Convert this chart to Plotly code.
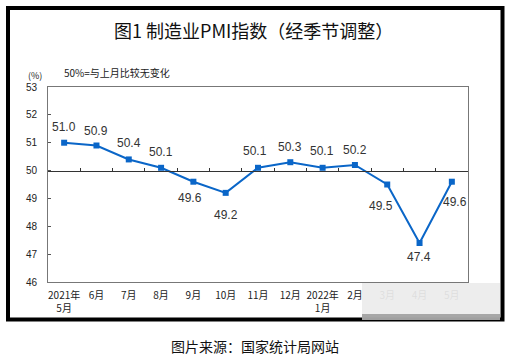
import plotly.graph_objects as go

# ---- data ----
months = ["2021年<br>5月", "6月", "7月", "8月", "9月", "10月", "11月", "12月",
          "2022年<br>1月", "2月", "3月", "4月", "5月"]
pmi = [51.0, 50.9, 50.4, 50.1, 49.6, 49.2, 50.1, 50.3, 50.1, 50.2, 49.5, 47.4, 49.6]
y_ticks = [46, 47, 48, 49, 50, 51, 52, 53]
title_text = "图1 制造业PMI指数（经季节调整）"
note_text = "50%=与上月比较无变化"
unit_text = "(%)"
source_text = "图片来源：国家统计局网站"

# ---- style ----
W, H = 508, 355
L, R, T, B = 48, 40, 87, 73
pw, ph = W - L - R, H - T - B
def px_x(p):
    return (p - L) / pw
def px_y(p):
    return (H - B - p) / ph

blue = "#0a66c8"
cjk = "Noto Sans CJK SC, Liberation Sans, sans-serif"
arial = "Liberation Sans, Arial, sans-serif"
label_off = [(0, -16), (0, -15), (0, -16), (0, -16), (-3, 16), (0, 22), (-3, -17),
             (0, -15), (-1, -17), (0, -15), (-6, 21), (-1, 14), (3, 20)]

idx = list(range(len(months)))
fig = go.Figure()
fig.add_trace(go.Scatter(x=idx, y=pmi, mode="lines+markers",
                         line=dict(color=blue, width=2),
                         marker=dict(symbol="square", size=6, color=blue),
                         showlegend=False, hoverinfo="skip"))
fig.add_trace(go.Scatter(x=[None], y=[None], xaxis="x2", showlegend=False, hoverinfo="skip"))

ann = []
for i, v in enumerate(pmi):
    dx, dy = label_off[i]
    ann.append(dict(x=i, y=v, xref="x", yref="y", text=f"{v:.1f}", showarrow=False,
                    xanchor="center", yanchor="middle",
                    xshift=dx, yshift=-dy, font=dict(family=arial, size=12, color="#333333")))
def paper_text(x, y, text, size, xanchor="center", color="#222222"):
    ann.append(dict(x=px_x(x), y=px_y(y), xref="paper", yref="paper", text=text,
                    xanchor=xanchor, yanchor="middle", showarrow=False,
                    font=dict(family=cjk, size=size, color=color)))
paper_text(253, 30, title_text, 18, color="#111111")
paper_text(35, 75, unit_text, 9)
paper_text(62, 72, note_text, 10, xanchor="left")
paper_text(255, 346, source_text, 14, color="#111111")

shapes = [
    dict(type="rect", xref="paper", yref="paper", x0=px_x(8), x1=px_x(502.5),
         y0=px_y(8), y1=px_y(319.5), line=dict(color="black", width=4), layer="above"),
    dict(type="rect", xref="paper", yref="paper", x0=px_x(362), x1=px_x(500),
         y0=px_y(283), y1=px_y(320), fillcolor="rgba(236,236,236,0.93)",
         line=dict(width=0), layer="above"),
    dict(type="rect", xref="paper", yref="paper", x0=px_x(362), x1=px_x(500),
         y0=px_y(314), y1=px_y(320), fillcolor="rgba(120,120,120,0.6)",
         line=dict(width=0), layer="above"),
]

fig.update_layout(
    width=W, height=H, margin=dict(l=L, r=R, t=T, b=B),
    paper_bgcolor="white", plot_bgcolor="white",
    annotations=ann, shapes=shapes,
    xaxis=dict(range=[-0.5, len(months) - 0.5], tickvals=idx, ticktext=months,
               showgrid=False, zeroline=False, showline=True, mirror=True,
               linecolor="#777777", linewidth=1, ticks="",
               tickfont=dict(family=cjk, size=10, color="#222222"), ticklabelstandoff=4),
    xaxis2=dict(overlaying="x", anchor="free", position=(50 - 46) / 7, side="bottom",
                range=[-0.5, len(months) - 0.5],
                tickvals=[i - 0.5 for i in range(len(months) + 1)],
                showticklabels=False, ticks="inside", ticklen=3, tickcolor="#333333",
                showline=True, linecolor="#333333", linewidth=1, showgrid=False, zeroline=False),
    yaxis=dict(range=[46, 53], tickvals=y_ticks, showgrid=False, zeroline=False,
               showline=True, mirror=True, linecolor="#777777", linewidth=1,
               ticks="inside", ticklen=3, tickcolor="#555555",
               tickfont=dict(family=arial, size=10, color="#222222"), ticklabelstandoff=8),
)

fig.write_html("out.html", config={"displayModeBar": False},
               post_script="document.body.style.margin='0';document.body.style.overflow='hidden';")
